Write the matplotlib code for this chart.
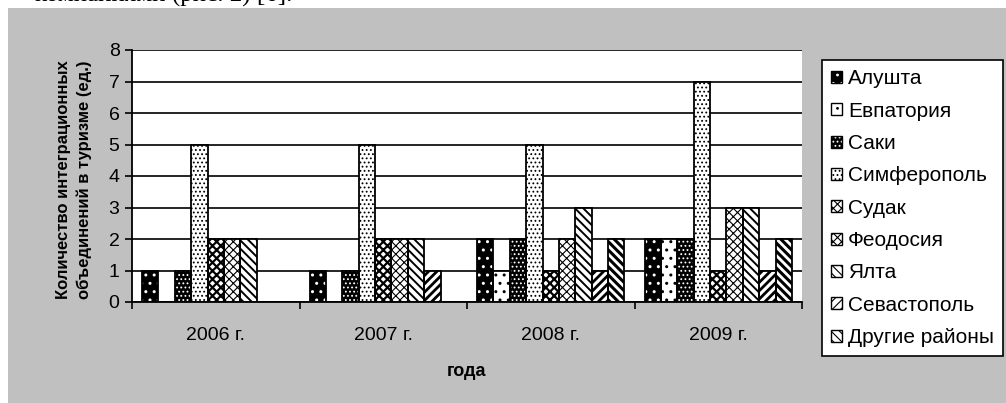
import matplotlib
matplotlib.use("Agg")
import matplotlib.pyplot as plt
import numpy as np
from matplotlib.patches import Rectangle, Patch
from matplotlib.legend_handler import HandlerTuple

years = ["2006 г.", "2007 г.", "2008 г.", "2009 г."]
series = ["Алушта", "Евпатория", "Саки", "Симферополь", "Судак",
          "Феодосия", "Ялта", "Севастополь", "Другие районы"]
alushta = [1, 1, 2, 2]
evpatoria = [0, 0, 1, 2]
saki = [1, 1, 2, 2]
simferopol = [5, 5, 5, 7]
sudak = [2, 2, 1, 1]
feodosia = [2, 2, 2, 3]
yalta = [2, 2, 3, 3]
sevastopol = [0, 1, 1, 1]
other = [0, 0, 2, 2]
values = [alushta, evpatoria, saki, simferopol, sudak, feodosia, yalta, sevastopol, other]

# (facecolor, hatchcolor, hatch, hatch linewidth)
styles = [
    ("black", "white", "..", 1.0),
    ("white", "black", "..", 1.0),
    ("black", "white", "....", 0.8),
    ("white", "black", "....", 0.8),
    ("white", "black", "xxxx", 1.6),
    ("white", "black", "xxxx", 0.8),
    ("white", "black", "\\\\\\\\", 1.4),
    ("white", "black", "////", 2.0),
    ("white", "black", "\\\\\\\\", 2.2),
]

W, H = 1006, 403
fig = plt.figure(figsize=(W / 100, H / 100), dpi=100)
fig.patch.set_facecolor("white")
fig.patches.append(Rectangle((8 / W, 0), 1, (H - 8) / H, transform=fig.transFigure,
                             facecolor="#c0c0c0", edgecolor="none", zorder=-10))
fig.text(292 / W, 1 - 2 / H, "компаниями (рис. 2) [6].", family="Liberation Serif",
         fontsize=18, va="baseline", ha="right", zorder=-5)

ax = fig.add_axes([132 / W, 1 - 302 / H, (802 - 132) / W, (302 - 50) / H])
ax.set_zorder(1)
ax.set_facecolor("white")


def hatched(container_fn, fc, hc, hatch, hlw, **kw):
    with plt.rc_context({"hatch.linewidth": hlw}):
        res = container_fn(facecolor=fc, edgecolor=hc, linewidth=0, hatch=hatch, **kw)
        items = res if hasattr(res, "__iter__") else [res]
        for b in items:
            try:
                b.set_hatch_linewidth(hlw)
            except Exception:
                pass
    return res


n = len(series)
x = np.arange(len(years))
bw = 0.88 / n
for i, (name, vals, st) in enumerate(zip(series, values, styles)):
    fc, hc, hatch, hlw = st
    pos = x - 0.44 + bw * (i + 0.5)
    hatched(lambda **kw: ax.bar(pos, vals, width=bw, zorder=2, **kw), fc, hc, hatch, hlw)
    ax.bar(pos, vals, width=bw, facecolor="none", edgecolor="black", linewidth=1.3, zorder=3)

ax.set_ylim(0, 8)
ax.set_xlim(-0.5, len(years) - 0.5)
ax.set_yticks(range(0, 9))
ax.yaxis.grid(True, color="black", linewidth=1.2, zorder=1)
ax.set_axisbelow(True)
ax.set_xticks(x)
ax.set_xticklabels(years, family="Liberation Sans", fontsize=14)
ax.set_xticks(np.arange(-0.5, len(years)), minor=True)
ax.tick_params(axis="x", which="major", length=0, pad=18)
ax.tick_params(axis="x", which="minor", length=5, width=1.2, direction="out")
ax.tick_params(axis="y", length=5, width=1.2, direction="out", labelsize=14, pad=4)
for lab in ax.get_yticklabels():
    lab.set_family("Liberation Sans")
for s in ["top", "right"]:
    ax.spines[s].set_visible(False)
ax.spines["left"].set_linewidth(1.3)
ax.spines["bottom"].set_linewidth(1.3)

ax.set_xlabel("года", family="Liberation Sans", fontsize=13, fontweight="bold", labelpad=14)
fig.text(74 / W, 1 - 180 / H, "Количество интеграционных\nобъединений в туризме (ед.)",
         rotation=90, family="Liberation Sans", fontsize=12, fontweight="bold",
         ha="center", va="center", linespacing=1.5)

handles = []
for name, st in zip(series, styles):
    fc, hc, hatch, hlw = st
    p1 = Patch(facecolor=fc, edgecolor=hc, linewidth=0, hatch=hatch)
    p2 = Patch(facecolor="none", edgecolor="black", linewidth=1.0)
    handles.append((p1, p2))
with plt.rc_context({"hatch.linewidth": 0.8}):
    leg = fig.legend(handles, series, loc="upper left",
                     handler_map={tuple: HandlerTuple(ndivide=1, pad=0)},
                     bbox_to_anchor=(822 / W, 1 - 60 / H), bbox_transform=fig.transFigure,
                     prop={"family": "Liberation Sans", "size": 15},
                     frameon=True, fancybox=False, edgecolor="black", framealpha=1,
                     handlelength=0.5, handleheight=0.5, handletextpad=0.3,
                     labelspacing=0.64, borderpad=0.45, borderaxespad=0)
leg.get_frame().set_linewidth(1.2)
leg.set_zorder(5)

fig.savefig("out.png", dpi=100, facecolor=fig.get_facecolor())
